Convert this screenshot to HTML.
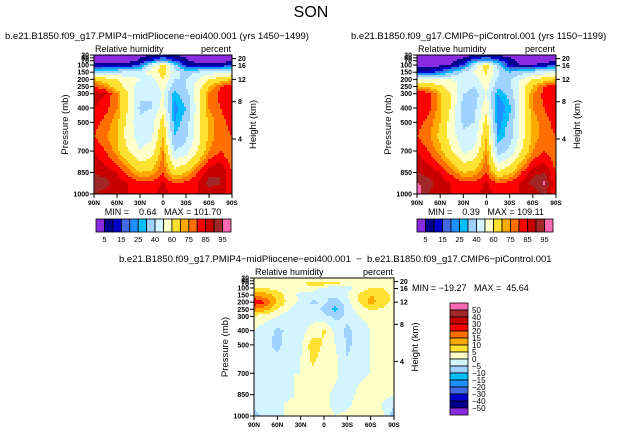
<!DOCTYPE html>
<html><head><meta charset="utf-8"><style>
body{margin:0;background:#fff;width:624px;height:433px;overflow:hidden}
svg text{font-family:"Liberation Sans",sans-serif;fill:#000;white-space:pre}
</style></head><body>
<svg id="chart" width="624" height="433" viewBox="0 0 624 433" xmlns="http://www.w3.org/2000/svg">
<text x="311" y="17" font-size="16" text-anchor="middle" font-weight="300">SON</text>
</svg>
<script>
const lats=[90,75,60,45,30,15,0,-15,-30,-45,-60,-75,-90];
const levels=[30,70,100,150,200,250,300,400,500,600,700,850,925,1000];
const pTicks=[1000,850,700,500,400,300,250,200,150,100,70,50,30];
const hTickLabels=[4,8,12,16,20];
const hTickPressure=[616,356,200,104,55];
const latTicks=[90,60,30,0,-30,-60,-90];
const latTickLabels=["90N","60N","30N","0","30S","60S","90S"];
const rhBounds=[5,10,15,20,25,30,40,50,60,70,75,80,85,90,95];
const rhColors=["#8a2be2","#00008b","#0000cd","#4169e1","#1e90ff","#00bfff","#a0d2ff","#d2f5ff","#ffffc8","#ffe132","#ffaa00","#ff6e00","#ff0000","#c80000","#a02828","#ff69b4"];
const rhBarLabels=["5","15","25","40","60","75","85","95"];
const dfBounds=[-50,-40,-30,-20,-15,-10,-5,0,5,10,15,20,30,40,50];
const dfColors=["#8a2be2","#00008b","#0000cd","#4169e1","#1e90ff","#00bfff","#a0d2ff","#d2f5ff","#ffffc8","#ffe132","#ffaa00","#ff6e00","#ff0000","#c80000","#a02828","#ff69b4"];
const dfBarLabels=["50","40","30","20","15","10","5","0","−5","−10","−15","−20","−30","−40","−50"];
const rhPlio=[
[1,1,1,2,3,5,7,5,3,2,1,1,1],
[2,2,2,3,6,15,25,15,6,3,2,2,3],
[8,8,7,8,15,45,65,35,10,7,7,8,14],
[35,38,40,42,45,55,65,45,35,40,45,48,50],
[70,65,60,55,50,45,60,40,40,50,60,65,70],
[80,75,65,55,45,42,55,35,40,55,70,80,85],
[88,85,75,60,42,40,50,27,35,55,75,82,85],
[85,82,75,60,38,40,55,22,30,55,75,80,85],
[82,78,72,55,42,45,65,25,35,55,72,78,82],
[80,76,70,55,45,48,70,30,38,55,72,78,80],
[85,80,72,60,50,55,75,40,45,60,75,80,75],
[90,88,85,78,70,72,80,65,70,80,88,90,80],
[93,92,88,85,82,82,86,80,82,85,92,90,80],
[90,88,85,85,85,85,86,85,85,85,85,88,80]];
const rhCtrl=[
[1,1,1,1,2,4,6,4,2,1,1,1,1],
[2,2,2,3,8,20,28,18,8,3,2,2,3],
[3,3,3,6,15,45,65,35,8,5,5,8,16],
[10,12,18,30,40,52,62,42,30,35,40,45,50],
[50,50,50,50,48,45,58,38,38,50,60,65,70],
[72,70,62,55,45,40,55,32,38,55,70,80,85],
[85,82,72,58,40,35,50,25,33,55,75,82,85],
[85,82,72,58,35,38,58,20,28,55,75,80,85],
[82,78,70,55,38,40,65,22,32,55,72,78,82],
[80,76,68,55,42,45,70,25,35,55,72,78,80],
[85,80,72,60,48,52,75,35,42,60,75,80,75],
[90,88,85,78,70,72,80,62,68,80,88,90,80],
[96,92,88,85,82,82,86,80,82,86,92,96,80],
[97,90,85,85,85,85,86,85,85,85,85,92,80]];
const rhDiff=[
[1,1,1,1,1,1,1,1,1,1,1,1,1],
[2,1,1,2,3,8,8,8,2,1,1,1,1],
[5,5,3,2,1,3,-2,-3,-2,2,5,5,3],
[15,12,8,2,-1,-3,-5,-3,0,6,10,8,3],
[25,20,10,3,-1,-6,-4,-8,-2,5,12,8,3],
[15,12,5,0,-5,-3,-6,-12,-3,2,6,4,1],
[3,2,0,-3,-3,-2,-4,-6,-4,0,2,1,0],
[0,-3,-6,-4,-2,2,6,-2,-6,-3,0,0,0],
[0,-4,-6,-3,-1,8,4,0,-6,-3,0,0,1],
[-3,-3,-4,-2,0,6,3,1,-5,-2,0,1,2],
[-2,-2,-1,0,0,4,2,1,-3,-1,0,1,1],
[-2,-3,-1,-1,1,2,1,-1,-2,1,2,1,1],
[-3,-2,-1,1,1,2,1,-1,-1,2,2,0,-5],
[-8,-2,-1,1,2,3,1,0,1,2,2,1,-8]];

const NS="http://www.w3.org/2000/svg";
const svg=document.getElementById('chart');
function mk(tag,attrs,parent){const e=document.createElementNS(NS,tag);for(const k in attrs)e.setAttribute(k,attrs[k]);(parent||svg).appendChild(e);return e;}
function txt(s,x,y,size,anchor,parent,name){const t=mk('text',{x:x,y:y,'font-size':size,'text-anchor':anchor||'start'},parent);t.textContent=s;


return t;}
function colorFor(v,b,c){let i=0;while(i<b.length&&v>=b[i])i++;return c[i];}
function sample(grid,lat,p){
 let i=0;while(i<lats.length-2&&lat<lats[i+1])i++;
 let fx=(lats[i]-lat)/(lats[i]-lats[i+1]);fx=Math.max(0,Math.min(1,fx));
 let j=0;while(j<levels.length-2&&p>levels[j+1])j++;
 let fy=(p-levels[j])/(levels[j+1]-levels[j]);fy=Math.max(0,Math.min(1,fy));
 const a=grid[j][i],b=grid[j][i+1],c=grid[j+1][i],d=grid[j+1][i+1];
 return a*(1-fx)*(1-fy)+b*fx*(1-fy)+c*(1-fx)*fy+d*fx*fy;}

function panel(o){
 const g=mk('g',{});
 
 
 const X=lat=>o.x+(90-lat)/180*o.w;
 const Y=p=>o.y+(p-30)/970*o.h;
 txt(o.title,o.tx,o.y-16,9.5,'start',g,'panel-title');
 txt('Relative humidity',o.x+1,o.y-3,9,'start',g,'variable-name');
 txt('percent',o.x+o.w-1,o.y-3,9,'end',g,'units-label');
 const cells=mk('g',{},g);
 
 
 const step=2;
 for(let py=0;py<o.h;py+=step){for(let px=0;px<o.w;px+=step){
  const lat=90-(px+step/2)/o.w*180;const p=30+(py+step/2)/o.h*970;
  const v=sample(o.grid,lat,p);
  const r=mk('rect',{x:o.x+px,y:o.y+py,width:Math.min(step,o.w-px)+0.3,height:Math.min(step,o.h-py)+0.3,fill:colorFor(v,o.bounds,o.colors)},cells);
  
  
 }}
 const f=mk('rect',{x:o.x,y:o.y,width:o.w,height:o.h,fill:'none',stroke:'#000','stroke-width':1},g);
 
 
 pTicks.forEach(p=>{const y=Y(p);mk('line',{x1:o.x-4,x2:o.x,y1:y,y2:y,stroke:'#000'},g);
  txt(String(p),o.x-5,y+2.5,7,'end',g,'pressure-tick-label').setAttribute('font-weight','bold');});
 hTickLabels.forEach((h,k)=>{const y=Y(hTickPressure[k]);mk('line',{x1:o.x+o.w,x2:o.x+o.w+4,y1:y,y2:y,stroke:'#000'},g);
  txt(String(h),o.x+o.w+6,y+2.5,7,'start',g,'height-tick-label').setAttribute('font-weight','bold');});
 latTicks.forEach((l,k)=>{const x=X(l);mk('line',{x1:x,x2:x,y1:o.y+o.h,y2:o.y+o.h+4,stroke:'#000'},g);
  txt(latTickLabels[k],x,o.y+o.h+11,6.5,'middle',g,'latitude-tick-label').setAttribute('font-weight','bold');});
 let t=txt('Pressure (mb)',0,0,9.5,'middle',g,'y-axis-title');t.setAttribute('transform',`translate(${o.x-26},${o.y+o.h/2}) rotate(-90)`);
 t=txt('Height (km)',0,0,9.5,'middle',g,'right-axis-title');t.setAttribute('transform',`translate(${o.x+o.w+24},${o.y+o.h/2}) rotate(-90)`);
 return g;}

function hbar(x,y,w,h,labels){
 const g=mk('g',{});
 
 
 const bw=w/rhColors.length;
 rhColors.forEach((c,k)=>{const r=mk('rect',{x:x+k*bw,y:y,width:bw,height:h,fill:c,stroke:'#000','stroke-width':0.8},g);
  
  });
 labels.forEach((s,k)=>txt(s,x+(2*k+1)*bw,y+h+10,7.5,'middle',g,'colorbar-label'));}

panel({name:'midpliocene-panel',x:94,y:55,w:138,h:139,tx:5,grid:rhPlio,bounds:rhBounds,colors:rhColors,title:'b.e21.B1850.f09_g17.PMIP4−midPliocene−eoi400.001 (yrs 1450−1499)'});
txt('MIN =    0.64   MAX = 101.70',163,215,9,'middle',null,'min-max-left');
hbar(96,219,135,13,rhBarLabels);
panel({name:'picontrol-panel',x:417,y:55,w:139,h:139,tx:351,grid:rhCtrl,bounds:rhBounds,colors:rhColors,title:'b.e21.B1850.f09_g17.CMIP6−piControl.001 (yrs 1150−1199)'});
txt('MIN =    0.39   MAX = 109.11',486,215,9,'middle',null,'min-max-right');
hbar(417,219,136,13,rhBarLabels);
panel({name:'difference-panel',x:254,y:278,w:140,h:138,tx:119,grid:rhDiff,bounds:dfBounds,colors:dfColors,title:'b.e21.B1850.f09_g17.PMIP4−midPliocene−eoi400.001  −  b.e21.B1850.f09_g17.CMIP6−piControl.001'});
txt('MIN = −19.27   MAX =  45.64',412,291,9,'start',null,'min-max-diff');
(function(){const g=mk('g',{});
 
 
 const x=450,y=303,w=18,h=112,bh=h/dfColors.length;
 for(let k=0;k<dfColors.length;k++){const r=mk('rect',{x:x,y:y+k*bh,width:w,height:bh,fill:dfColors[dfColors.length-1-k],stroke:'#000','stroke-width':0.8},g);
  
  }
 dfBarLabels.forEach((s,k)=>txt(s,x+w+4,y+(k+1)*bh+3,8,'start',g,'colorbar-label'));})();
</script>
</body></html>
